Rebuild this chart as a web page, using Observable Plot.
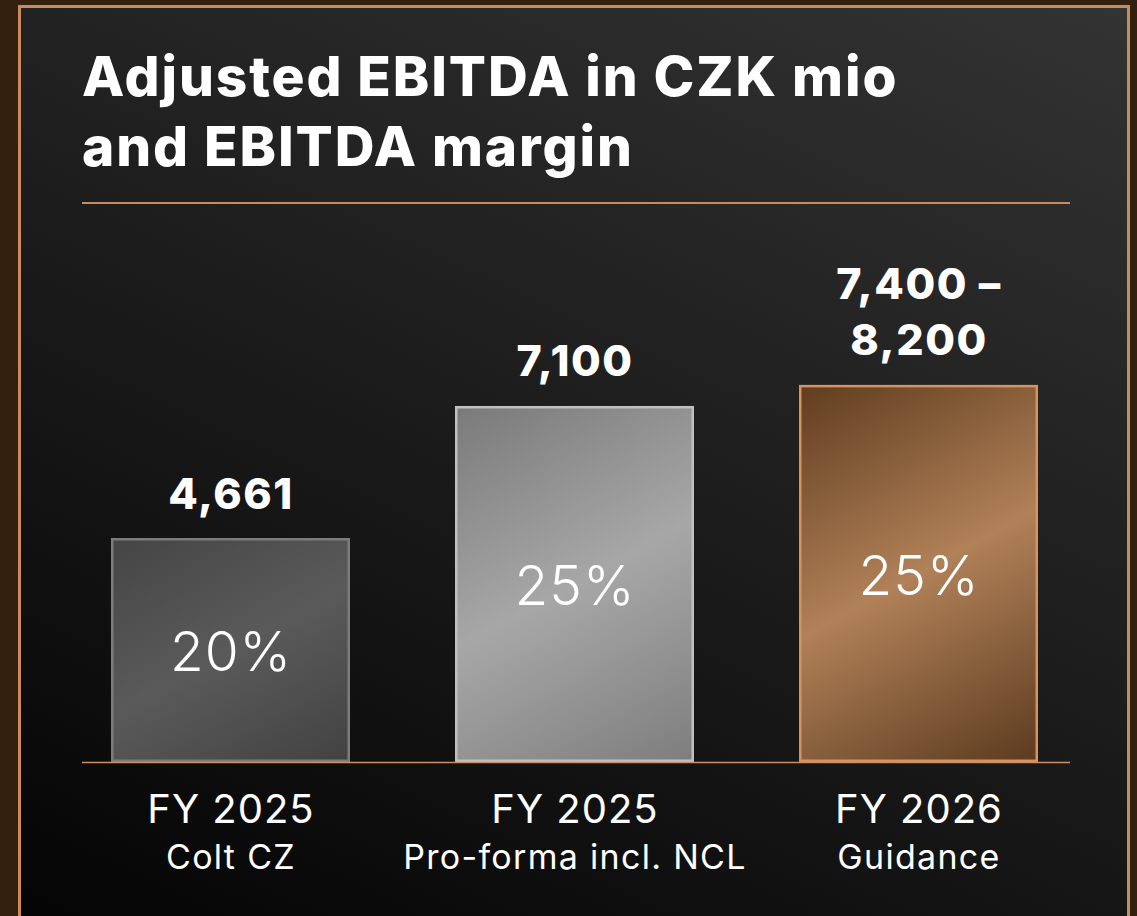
<!DOCTYPE html>
<html>
<head>
<meta charset="utf-8">
<script src="https://cdn.jsdelivr.net/npm/d3@7"></script>
<script src="https://cdn.jsdelivr.net/npm/@observablehq/plot@0.6"></script>
<style>
  html, body { margin: 0; padding: 0; }
  body { width: 1137px; height: 916px; overflow: hidden; background: #33200f; position: relative; font-family: Inter, "Noto Sans", sans-serif; }
  #card { position: absolute; left: 18px; top: 5px; width: 1112px; height: 960px; box-sizing: border-box;
          border: 3px solid #c98b5e; background: linear-gradient(205deg, #333333 0%, #030303 100%); }
  #title { position: absolute; left: 82px; top: 41px; margin: 0; color: #ffffff; font-size: 55px; line-height: 70px; font-weight: 800; letter-spacing: 1.9px; }
  #rule { position: absolute; left: 82px; top: 202px; width: 988px; height: 1.5px; background: #c98b5e; }
  #chart { position: absolute; left: 0; top: 215px; }
</style>
</head>
<body>
<div id="card"></div>
<h1 id="title">Adjusted EBITDA in CZK mio<br>and EBITDA margin</h1>
<div id="rule"></div>
<div id="chart"></div>
<script>
// ---- data ----
const years = ["FY 2025", "FY 2025", "FY 2026"];
const scopes = ["Colt CZ", "Pro-forma incl. NCL", "Guidance"];
const ebitdaValues = [4661, 7100, 7490];          // bar height as drawn (guidance bar ≈ 7,490)
const ebitdaLabels = ["4,661", "7,100", "7,400 \u2013\n8,200"];
const marginLabels = ["20%", "25%", "25%"];

// ---- styles (not data) ----
const yFloor = 523;   // value axis starts here in the original graphic
const barGradients = [
  { x2: 0.686, y2: 1.182, stops: [[0, "#454545"], [0.5, "#5a5a5a"], [1, "#424242"]] },
  { x2: 0.44,  y2: 1.205, stops: [[0, "#7a7a7a"], [0.5, "#a7a7a7"], [1, "#7e7e7e"]] },
  { x2: 0.415, y2: 1.202, stops: [[0, "#603d1f"], [0.5, "#b18158"], [1, "#5c3b1f"]] }
];
const barStrokes = ["#7c7c7c", "#c0c0c0", "#d4935f"];
const textSpacing = [1.5, 1, 1, 1.3];   // letter-spacing per text mark, in mark order

const data = scopes.map((s, i) => ({
  scope: s, year: years[i], value: ebitdaValues[i],
  label: ebitdaLabels[i], margin: marginLabels[i], idx: i
}));

const plot = Plot.plot({
  width: 1137,
  height: 701,
  marginLeft: 110,
  marginRight: 97,
  marginTop: 34,
  marginBottom: 154,
  style: { background: "transparent", fontFamily: "Inter, 'Noto Sans', sans-serif", color: "#fff", overflow: "visible" },
  x: { domain: scopes, paddingInner: 0.3043, paddingOuter: 0, axis: null },
  y: { domain: [yFloor, 10000], clamp: true, axis: null },
  color: { type: "identity" },
  marks: [
    Plot.barY(data, {
      x: "scope", y: "value",
      fill: d => `url(#barGrad${d.idx})`,
      stroke: d => barStrokes[d.idx],
      strokeWidth: 2.5, inset: 1.25
    }),
    Plot.ruleY([0], { stroke: "#d08f5f", strokeWidth: 1.5, insetLeft: -28, insetRight: -30 }),
    Plot.text(data, {
      x: "scope", y: "value", text: "label",
      dy: -30, lineAnchor: "bottom", lineHeight: 1.3,
      fontSize: 43, fontWeight: 800, fill: "#ffffff"
    }),
    Plot.text(data, {
      x: "scope", y: d => (yFloor + d.value) / 2, text: "margin",
      dy: 3, lineAnchor: "middle",
      fontSize: 55, fontWeight: 300, fill: "#ffffff"
    }),
    Plot.text(data, {
      x: "scope", text: "year", frameAnchor: "bottom",
      dy: 60, lineAnchor: "bottom", fontSize: 40, fontWeight: 400, fill: "#ffffff"
    }),
    Plot.text(data, {
      x: "scope", text: "scope", frameAnchor: "bottom",
      dy: 106, lineAnchor: "bottom", fontSize: 34, fontWeight: 400, fill: "#ffffff"
    })
  ]
});

const svg = d3.select(plot);
const defs = svg.insert("defs", ":first-child");
barGradients.forEach((gd, i) => {
  const g = defs.append("linearGradient")
    .attr("id", `barGrad${i}`)
    .attr("x1", 0).attr("y1", 0).attr("x2", gd.x2).attr("y2", gd.y2);
  gd.stops.forEach(([o, c]) => g.append("stop").attr("offset", o).attr("stop-color", c));
});
const textGroups = Array.from(plot.querySelectorAll("g"))
  .filter(g => g.firstElementChild && g.firstElementChild.tagName.toLowerCase() === "text");
textGroups.forEach((g, i) => {
  if (textSpacing[i] != null) g.setAttribute("letter-spacing", `${textSpacing[i]}px`);
  g.querySelectorAll("text").forEach(t => t.setAttribute("letter-spacing", `${textSpacing[i]}px`));
});

document.getElementById("chart").appendChild(plot);
</script>
</body>
</html>
